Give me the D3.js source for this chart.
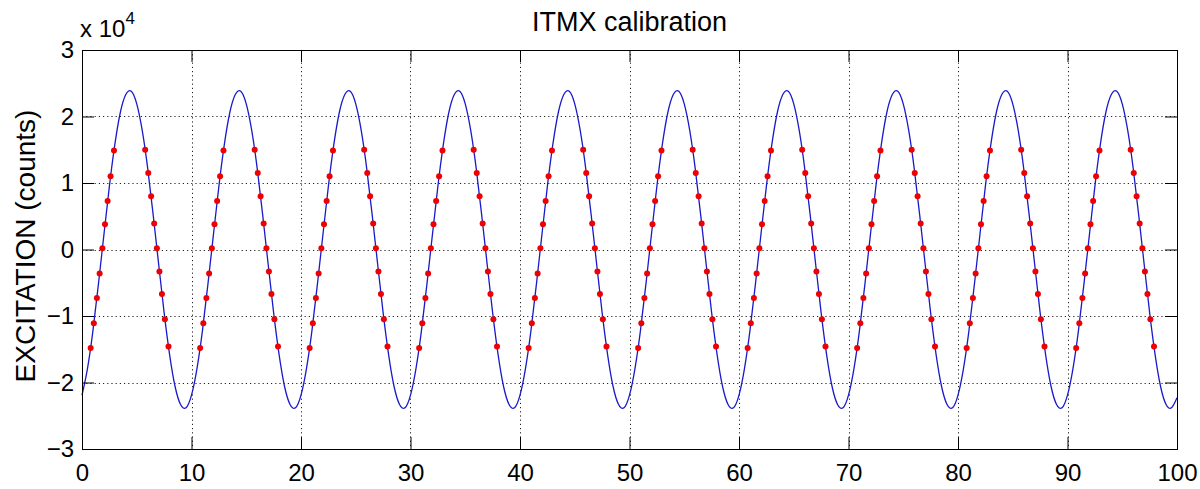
<!DOCTYPE html>
<html><head><meta charset="utf-8">
<script src="https://cdn.jsdelivr.net/npm/d3@7"></script>
<style>body{margin:0;background:#fff}svg{display:block;font-family:"Liberation Sans",Arial,Helvetica,sans-serif}</style>
</head><body><svg id="chart" width="1200" height="489"></svg>
<script>
const title = "ITMX calibration";
const yLabel = "EXCITATION (counts)";
const xTicks = [0,10,20,30,40,50,60,70,80,90,100];
const yTicks = [-30000,-20000,-10000,0,10000,20000,30000];
const yExponent = "4";
// blue excitation trace, read every 0.5 on x from 0 to 100
const curveStep = 0.5;
const curveY = [
-21900,-17900,-12200,-5200,2200,9500,15800,20600,23300,23800,21900,17900,12200,5200,-2200,-9500,-15800,-20600,-23300,-23800,
-21900,-17900,-12200,-5200,2200,9500,15800,20600,23300,23800,21900,17900,12200,5200,-2200,-9500,-15800,-20600,-23300,-23800,
-21900,-17900,-12200,-5200,2200,9500,15800,20600,23300,23800,21900,17900,12200,5200,-2200,-9500,-15800,-20600,-23300,-23800,
-21900,-17900,-12200,-5200,2200,9500,15800,20600,23300,23800,21900,17900,12200,5200,-2200,-9500,-15800,-20600,-23300,-23800,
-21900,-17900,-12200,-5200,2200,9500,15800,20600,23300,23800,21900,17900,12200,5200,-2200,-9500,-15800,-20600,-23300,-23800,
-21900,-17900,-12200,-5200,2200,9500,15800,20600,23300,23800,21900,17900,12200,5200,-2200,-9500,-15800,-20600,-23300,-23800,
-21900,-17900,-12200,-5200,2200,9500,15800,20600,23300,23800,21900,17900,12200,5200,-2200,-9500,-15800,-20600,-23300,-23800,
-21900,-17900,-12200,-5200,2200,9500,15800,20600,23300,23800,21900,17900,12200,5200,-2200,-9500,-15800,-20600,-23300,-23800,
-21900,-17900,-12200,-5200,2200,9500,15800,20600,23300,23800,21900,17900,12200,5200,-2200,-9500,-15800,-20600,-23300,-23800,
-21900,-17900,-12200,-5200,2200,9500,15800,20600,23300,23800,21900,17900,12200,5200,-2200,-9500,-15800,-20600,-23300,-23800,
-22300];
// red calibration points
const dotX = [
0.79,1.08,1.36,1.61,1.86,2.10,2.34,2.61,2.92,5.77,6.05,6.31,6.59,6.84,7.07,7.30,7.57,7.90,
10.79,11.08,11.36,11.61,11.86,12.10,12.34,12.61,12.92,15.77,16.05,16.31,16.59,16.84,17.07,17.30,17.57,17.90,
20.79,21.08,21.36,21.61,21.86,22.10,22.34,22.61,22.92,25.77,26.05,26.31,26.59,26.84,27.07,27.30,27.57,27.90,
30.79,31.08,31.36,31.61,31.86,32.10,32.34,32.61,32.92,35.77,36.05,36.31,36.59,36.84,37.07,37.30,37.57,37.90,
40.79,41.08,41.36,41.61,41.86,42.10,42.34,42.61,42.92,45.77,46.05,46.31,46.59,46.84,47.07,47.30,47.57,47.90,
50.79,51.08,51.36,51.61,51.86,52.10,52.34,52.61,52.92,55.77,56.05,56.31,56.59,56.84,57.07,57.30,57.57,57.90,
60.79,61.08,61.36,61.61,61.86,62.10,62.34,62.61,62.92,65.77,66.05,66.31,66.59,66.84,67.07,67.30,67.57,67.90,
70.79,71.08,71.36,71.61,71.86,72.10,72.34,72.61,72.92,75.77,76.05,76.31,76.59,76.84,77.07,77.30,77.57,77.90,
80.79,81.08,81.36,81.61,81.86,82.10,82.34,82.61,82.92,85.77,86.05,86.31,86.59,86.84,87.07,87.30,87.57,87.90,
90.79,91.08,91.36,91.61,91.86,92.10,92.34,92.61,92.92,95.77,96.05,96.31,96.59,96.84,97.07,97.30,97.57,97.90];
const dotY = [
-14800,-11100,-7300,-3600,200,3800,7300,11000,14900,15000,11500,8000,3900,200,-3300,-6700,-10500,-14600,
-14800,-11100,-7300,-3600,200,3800,7300,11000,14900,15000,11500,8000,3900,200,-3300,-6700,-10500,-14600,
-14800,-11100,-7300,-3600,200,3800,7300,11000,14900,15000,11500,8000,3900,200,-3300,-6700,-10500,-14600,
-14800,-11100,-7300,-3600,200,3800,7300,11000,14900,15000,11500,8000,3900,200,-3300,-6700,-10500,-14600,
-14800,-11100,-7300,-3600,200,3800,7300,11000,14900,15000,11500,8000,3900,200,-3300,-6700,-10500,-14600,
-14800,-11100,-7300,-3600,200,3800,7300,11000,14900,15000,11500,8000,3900,200,-3300,-6700,-10500,-14600,
-14800,-11100,-7300,-3600,200,3800,7300,11000,14900,15000,11500,8000,3900,200,-3300,-6700,-10500,-14600,
-14800,-11100,-7300,-3600,200,3800,7300,11000,14900,15000,11500,8000,3900,200,-3300,-6700,-10500,-14600,
-14800,-11100,-7300,-3600,200,3800,7300,11000,14900,15000,11500,8000,3900,200,-3300,-6700,-10500,-14600,
-14800,-11100,-7300,-3600,200,3800,7300,11000,14900,15000,11500,8000,3900,200,-3300,-6700,-10500,-14600];

const svg = d3.select("#chart");
const L = 82, R = 1177, T = 50, B = 449;
const x = d3.scaleLinear().domain([0,100]).range([L,R]);
const y = d3.scaleLinear().domain([-30000,30000]).range([B,T]);

// grid
const grid = svg.append("g").attr("stroke","#222").attr("stroke-width",1).attr("stroke-dasharray","1.2,3");
grid.selectAll("line.gx").data(xTicks.slice(1,-1)).join("line")
  .attr("x1",d=>Math.round(x(d))+0.5).attr("x2",d=>Math.round(x(d))+0.5).attr("y1",T).attr("y2",B);
grid.selectAll("line.gy").data(yTicks.slice(1,-1)).join("line")
  .attr("y1",d=>Math.round(y(d))+0.5).attr("y2",d=>Math.round(y(d))+0.5).attr("x1",L).attr("x2",R);

// curve
const pts = curveY.map((v,i)=>[i*curveStep, v]);
svg.append("path").datum(pts)
  .attr("fill","none").attr("stroke","#1a1ac8").attr("stroke-width",1.3)
  .attr("d", d3.line().x(d=>x(d[0])).y(d=>y(d[1])).curve(d3.curveNatural));

// dots
svg.append("g").selectAll("circle").data(dotX.map((v,i)=>[v,dotY[i]])).join("circle")
  .attr("cx",d=>x(d[0])).attr("cy",d=>y(d[1])).attr("r",3).attr("fill","#ee0000");

// axes
const fmt = d => d3.format("d")(d/10000);
const tickStyle = g => { g.selectAll(".domain").remove(); g.selectAll(".tick line").attr("stroke","#000"); g.selectAll("text").attr("fill","#000"); };
svg.append("g").attr("transform",`translate(0,${B})`)
  .call(d3.axisBottom(x).tickValues(xTicks).tickSize(-12).tickPadding(15).tickFormat(d3.format("d")))
  .attr("font-size",24).attr("font-family",null).call(tickStyle);
svg.append("g").attr("transform",`translate(0,${T})`)
  .call(d3.axisTop(x).tickValues(xTicks).tickSize(-12).tickFormat(""))
  .call(tickStyle);
svg.append("g").attr("transform",`translate(${L},0)`)
  .call(d3.axisLeft(y).tickValues(yTicks).tickSize(-12).tickPadding(8).tickFormat(fmt))
  .attr("font-size",24).attr("font-family",null).call(tickStyle);
svg.append("g").attr("transform",`translate(${R},0)`)
  .call(d3.axisRight(y).tickValues(yTicks).tickSize(-12).tickFormat(""))
  .call(tickStyle);

svg.append("rect").attr("x",L+0.5).attr("y",T+0.5).attr("width",R-L).attr("height",B-T)
  .attr("fill","none").attr("stroke","#000").attr("stroke-width",1);

// exponent
const ex = svg.append("text").attr("x",80).attr("y",37).attr("font-size",24).attr("fill","#000");
ex.append("tspan").text("x 10");
ex.append("tspan").attr("dy",-13).attr("font-size",17).text(yExponent);

// title
svg.append("text").attr("x",(L+R)/2).attr("y",31).attr("text-anchor","middle")
  .attr("font-size",27).attr("fill","#000").text(title);

// y label
svg.append("text").attr("transform","translate(35,246) rotate(-90)").attr("text-anchor","middle")
  .attr("font-size",28).attr("fill","#000").text(yLabel);
</script></body></html>
